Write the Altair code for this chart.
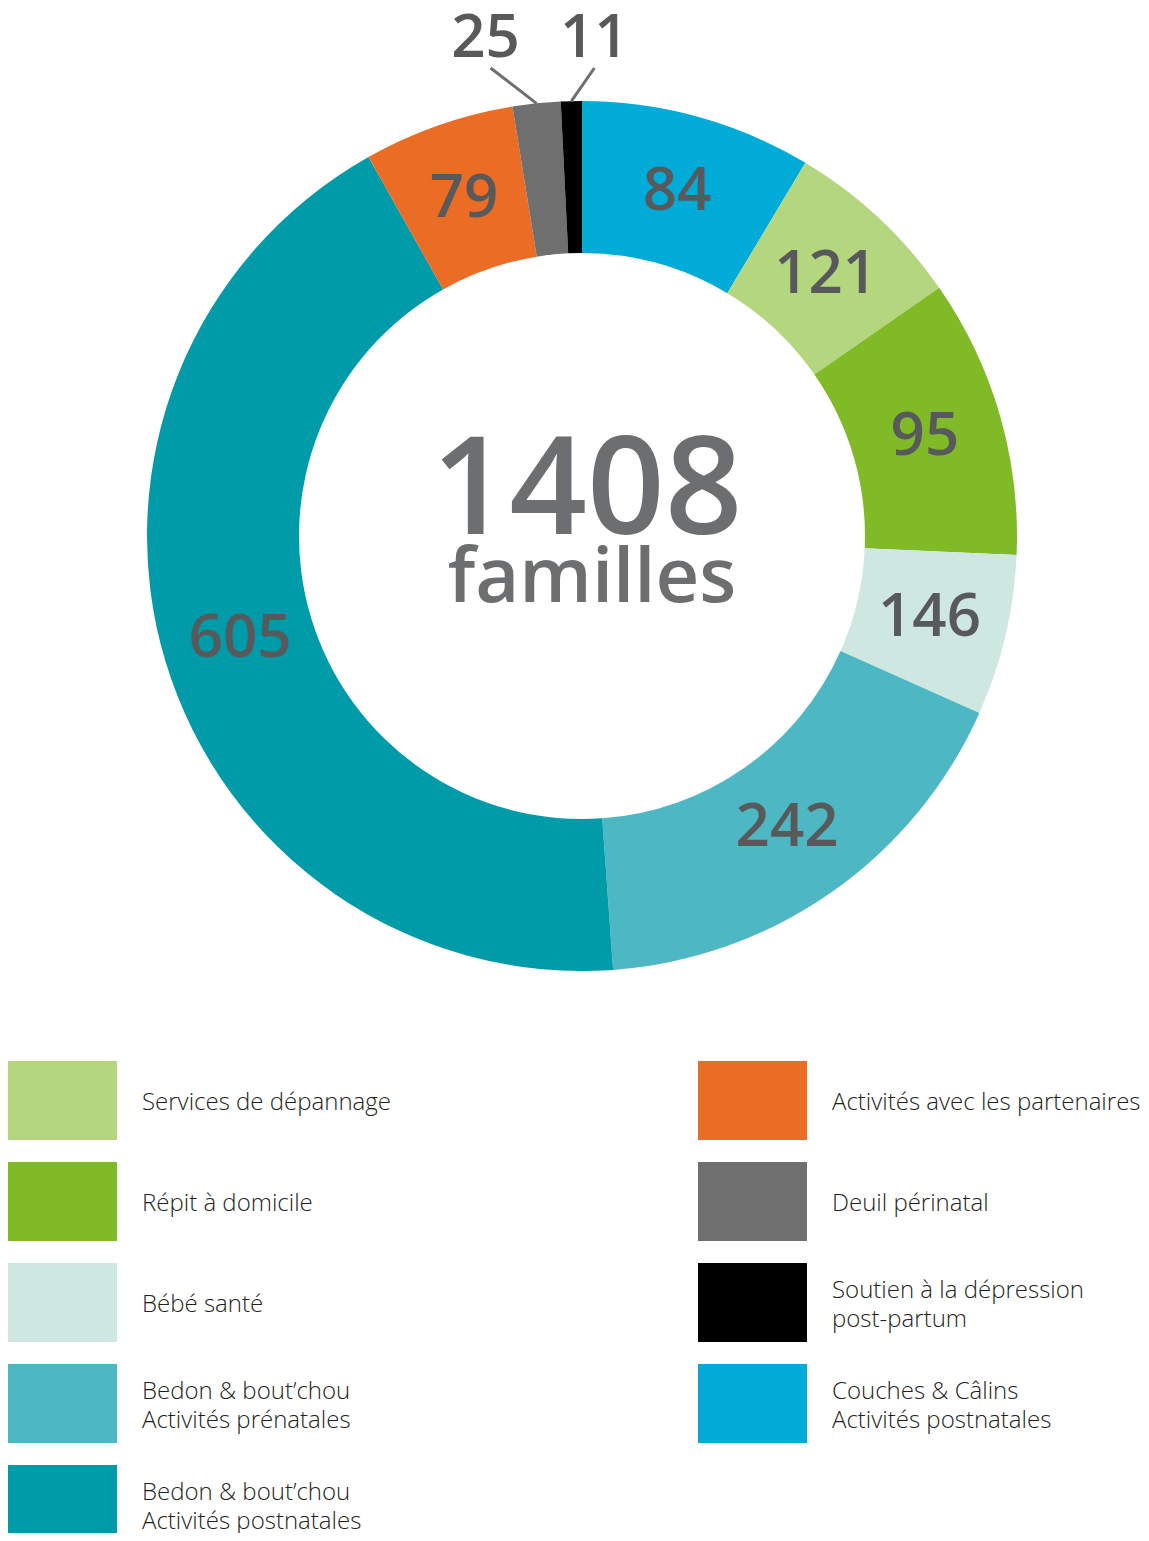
import altair as alt
import pandas as pd

# ---------------- data ----------------
categories = [
    "Couches & Câlins\nActivités postnatales",
    "Services de dépannage",
    "Répit à domicile",
    "Bébé santé",
    "Bedon & bout’chou\nActivités prénatales",
    "Bedon & bout’chou\nActivités postnatales",
    "Activités avec les partenaires",
    "Deuil périnatal",
    "Soutien à la dépression\npost-partum",
]
# numbers printed on the slices
values = [84, 121, 95, 146, 242, 605, 79, 25, 11]
# angular size of each slice as drawn in the picture (degrees)
arc_degrees = [30.9, 24.3, 37.3, 21.5, 61.9, 154.7, 20.2, 6.4, 2.8]
colors = ["#00acd7", "#b4d67f", "#80bb27", "#cfe7e1", "#4db8c3",
          "#009ba8", "#eb6c24", "#6f6f6f", "#000000"]

legend_left = [
    "Services de dépannage",
    "Répit à domicile",
    "Bébé santé",
    "Bedon & bout’chou\nActivités prénatales",
    "Bedon & bout’chou\nActivités postnatales",
]
legend_right = [
    "Activités avec les partenaires",
    "Deuil périnatal",
    "Soutien à la dépression\npost-partum",
    "Couches & Câlins\nActivités postnatales",
]
center_caption = "familles"

# ---------------- layout ----------------
FONT = "Open Sans"
CX, CY = 574, 528
R_OUT, R_IN = 435, 283
R_LABEL = 357

df = pd.DataFrame({
    "cat": categories,
    "value": values,
    "deg": arc_degrees,
    "idx": list(range(len(values))),
})

rows = []
for col, names in enumerate([legend_left, legend_right]):
    for r, n in enumerate(names):
        rows.append({"cat": n, "col": col, "row": r})
leg = pd.DataFrame(rows)

color_scale = alt.Scale(domain=categories, range=colors)
base = alt.Chart(df)

arcs = base.mark_arc(innerRadius=R_IN, outerRadius=R_OUT).encode(
    theta=alt.Theta("deg:Q", stack=True),
    color=alt.Color("cat:N", scale=color_scale, legend=None),
    order=alt.Order("idx:Q"),
    x=alt.value(CX),
    y=alt.value(CY),
)

inner_labels = base.transform_calculate(
    lab="datum.value >= 50 ? '' + datum.value : ''"
).mark_text(
    radius=R_LABEL, font=FONT, fontSize=60, fontWeight=600,
    color="#58595b", align="center", baseline="middle",
).encode(
    theta=alt.Theta("deg:Q", stack=True),
    order=alt.Order("idx:Q"),
    text="lab:N",
    x=alt.value(CX),
    y=alt.value(CY),
)

outer = base.transform_joinaggregate(
    total="sum(deg)"
).transform_window(
    cum="sum(deg)", sort=[alt.SortField("idx")], frame=[None, 0]
).transform_filter(
    "datum.value < 50"
).transform_window(
    k="row_number()", sort=[alt.SortField("idx")]
).transform_calculate(
    ang="(datum.cum - datum.deg / 2) / datum.total * 2 * PI",
).transform_calculate(
    x0=f"{CX} + {R_OUT} * sin(datum.ang)",
    y0=f"{CY} - {R_OUT} * cos(datum.ang)",
).transform_calculate(
    x1="datum.x0 + (datum.k == 1 ? -46 : 23)",
    y1=f"{CY} - 468",
).transform_calculate(
    tx="datum.x1 + (datum.k == 1 ? -5 : 0)",
    ty="datum.y1 - 11",
)

leaders = outer.mark_rule(color="#6f6f6f", strokeWidth=3).encode(
    x=alt.X("x0:Q", scale=None, axis=None),
    y=alt.Y("y0:Q", scale=None, axis=None),
    x2="x1:Q",
    y2="y1:Q",
)

outer_labels = outer.mark_text(
    font=FONT, fontSize=60, fontWeight=600, color="#58595b",
    align="center", baseline="alphabetic",
).encode(
    x=alt.X("tx:Q", scale=None, axis=None),
    y=alt.Y("ty:Q", scale=None, axis=None),
    text="value:Q",
)

total_text = base.transform_aggregate(total="sum(value)").mark_text(
    font=FONT, fontSize=136, fontWeight=600, color="#6d6e70",
    align="center", baseline="alphabetic",
).encode(text="total:Q", x=alt.value(CX + 5), y=alt.value(CY - 2))

caption = base.transform_aggregate(total="sum(value)").transform_calculate(
    cap=f"'{center_caption}'"
).mark_text(
    font=FONT, fontSize=76, fontWeight=600, color="#6d6e70",
    align="center", baseline="alphabetic",
).encode(text="cap:N", x=alt.value(CX + 10), y=alt.value(CY + 66))

lbase = alt.Chart(leg).transform_calculate(
    rx0="datum.col * 690",
    rx1="datum.col * 690 + 109",
    ry0="1053 + datum.row * 101",
    ry1="1053 + datum.row * 101 + 79",
    tx="datum.col * 690 + 134",
    ty="1053 + datum.row * 101 + 42 - (indexof(datum.cat, '\\n') >= 0 ? 14.5 : 0)",
)

leg_rects = lbase.mark_rect().encode(
    x=alt.X("rx0:Q", scale=None, axis=None),
    x2="rx1:Q",
    y=alt.Y("ry0:Q", scale=None, axis=None),
    y2="ry1:Q",
    color=alt.Color("cat:N", scale=color_scale, legend=None),
)

leg_texts = lbase.mark_text(
    align="left", baseline="middle", font=FONT, fontSize=24, fontWeight=300,
    color="#231f20", lineBreak="\n", lineHeight=29,
).encode(
    x=alt.X("tx:Q", scale=None, axis=None),
    y=alt.Y("ty:Q", scale=None, axis=None),
    text="cat:N",
)

chart = alt.layer(
    arcs, inner_labels, leaders, outer_labels, total_text, caption, leg_rects, leg_texts
).properties(
    width=1133, height=1525, autosize=alt.AutoSizeParams(type="none"), padding=0
).configure_view(stroke=None)

chart.save("out.html", embed_options={"renderer": "svg", "actions": False})
